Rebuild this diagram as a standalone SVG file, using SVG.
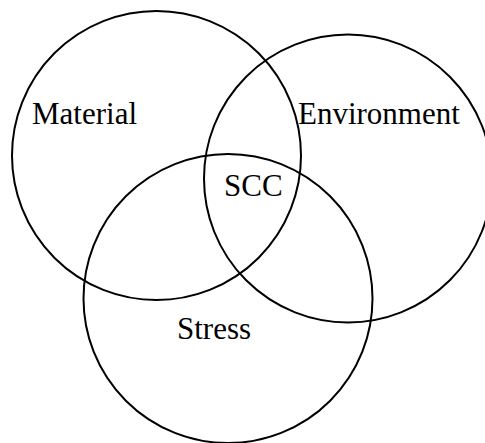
<svg xmlns="http://www.w3.org/2000/svg" width="485" height="443" viewBox="0 0 485 443">
<style>
.c{fill:none;stroke:#000;stroke-width:2}
.t{font-family:"Liberation Serif","Times New Roman",serif;font-size:31px;fill:#000}
</style>
<rect width="485" height="443" fill="#fff"/>
<g id="material"><circle class="c" cx="156.5" cy="155.5" r="144.5"/><text class="t" x="32" y="124">Material</text></g>
<g id="environment"><circle class="c" cx="348" cy="178.5" r="144"/><text class="t" x="298" y="124">Environment</text></g>
<g id="stress"><circle class="c" cx="228" cy="298.5" r="144.5"/><text class="t" x="177" y="339">Stress</text></g>
<g id="scc"><text class="t" x="224" y="196">SCC</text></g>
<g id="connectors"></g>
</svg>
